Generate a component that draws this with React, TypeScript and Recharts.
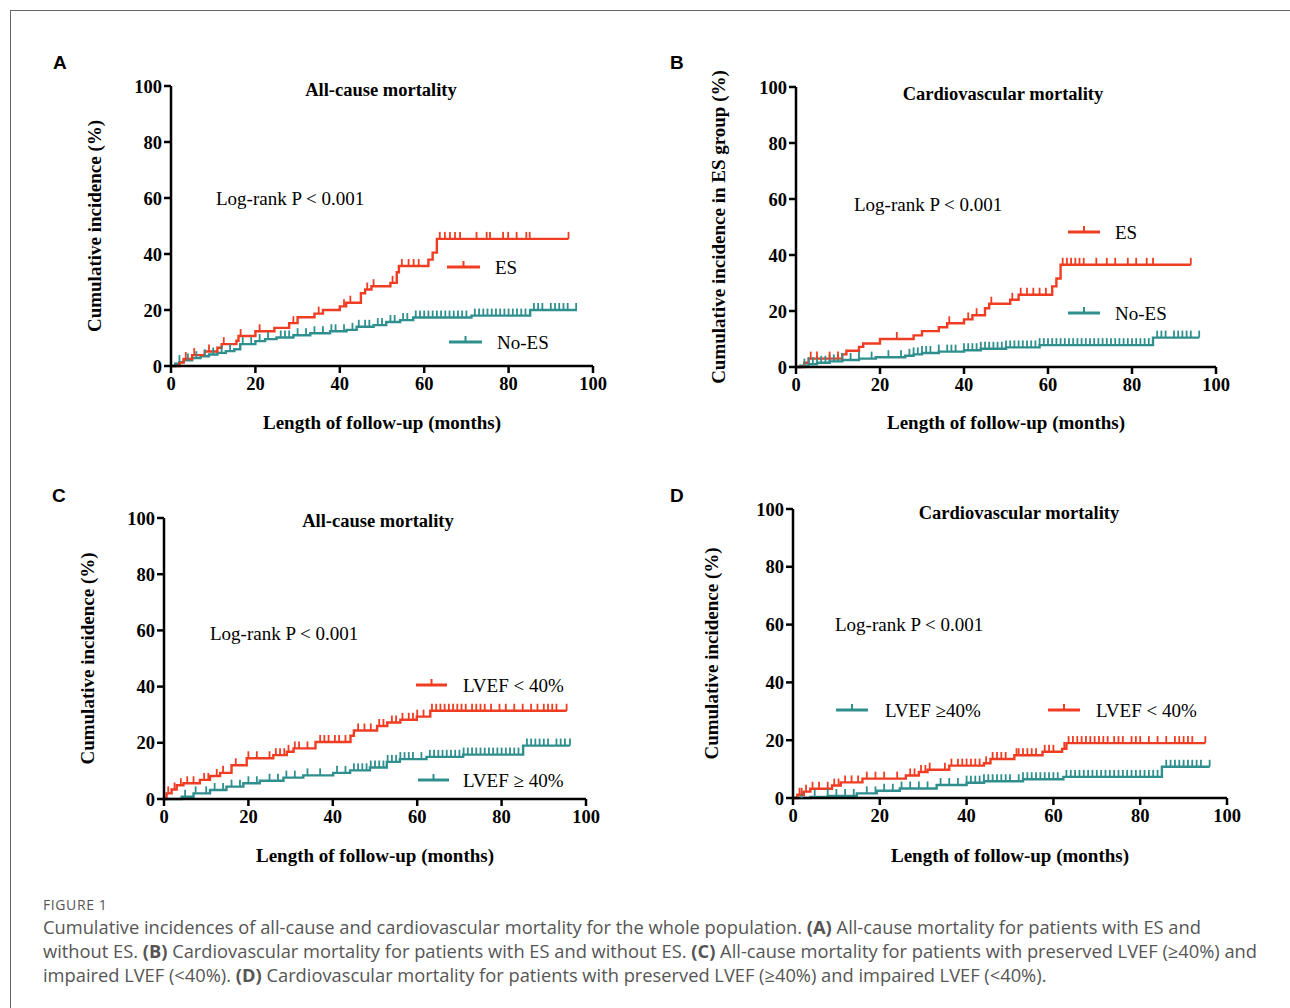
import React from 'react'
import { ComposedChart, Line, Scatter, XAxis, YAxis } from 'recharts'

type Pt = [number, number]

const RED = '#f03c22'
const TEAL = '#2f8f8f'
const SERIF = '"Liberation Serif", "Times New Roman", serif'
const X_TICKS = [0, 20, 40, 60, 80, 100]
const Y_TICKS = [0, 20, 40, 60, 80, 100]

// Panel A: all-cause mortality, ES vs No-ES  (time in months, incidence in %)
const A_ES: Pt[] = [
    [0, 0], [2, 1.2], [3, 2.5], [5, 3.9], [8, 5.2], [11, 6.5], [12, 7.8], [15.5, 9], [16, 10.7],
    [20, 12.4], [24.5, 13.6], [28, 15.3], [30, 17.4], [34, 18.7], [36, 20], [40, 21.3], [41.5, 22.6],
    [45, 26], [46, 27.3], [47.5, 28.5], [52, 29.7], [53.5, 33.5], [54, 35.7], [61, 38], [62, 40.5],
    [63, 45.4], [94.2, 45.4],
]
const A_ES_CENSOR = [3.5, 5.5, 9, 12.5, 16.5, 21, 29, 35, 41, 42.5, 46.5, 48, 52.5, 54.7, 56.3, 57.5, 58.7,
    63.7, 64.9, 66.1, 67.3, 68.5, 72.4, 74.8, 75.6, 78.7, 79.9, 81.9, 84.2, 85, 94.2]
const A_NOES: Pt[] = [
    [0, 0], [1, 0.8], [2, 1.4], [3, 2], [5, 2.8], [7, 3.5], [9, 4.1], [11, 4.7], [13, 5.3], [15, 6],
    [16.4, 7.8], [20, 8.9], [22.3, 9.6], [25, 10.2], [29, 11], [33, 11.7], [37.7, 12.4], [41.6, 12.9],
    [44, 14], [48, 14.6], [51, 15.7], [54.3, 16.4], [57.4, 17.3], [71.2, 18], [85.1, 20], [96.2, 20],
]
const A_NOES_CENSOR = [2, 4, 6, 8, 10, 12, 14, 17, 19, 21, 23, 26, 27, 28, 30, 32, 34, 36, 38, 39, 41, 43,
    44.5, 46, 47, 49, 50, 52, 53, 55, 56, 58, 59, 60, 61, 62, 63, 64, 65, 66, 67, 68, 69, 70, 72, 73, 74,
    75, 76, 77, 78, 79, 80, 81, 82, 83, 84, 86, 87, 88, 90, 91, 92, 93, 94, 96]

// Panel B: cardiovascular mortality, ES vs No-ES
const B_ES: Pt[] = [
    [0, 0], [2, 1.5], [3, 3], [11, 4.5], [12, 5.8], [15, 7.2], [16, 8.4], [20, 10], [28, 11.3],
    [30, 12.8], [34, 14.2], [36, 15.6], [40, 17], [42, 18.5], [45, 21], [46, 22.6], [51, 24],
    [53, 25.8], [61, 28.8], [62, 31.6], [63, 36.5], [94, 36.5],
]
const B_ES_CENSOR = [3.5, 5, 8, 10, 24, 36.5, 41, 43, 46.5, 51.5, 53.5, 55, 56.5, 58, 59.5, 63.5, 64.5,
    65.5, 66.5, 67.5, 68.5, 71.5, 74, 76, 79, 81, 83.5, 85, 94]
const B_NOES: Pt[] = [
    [0, 0], [1, 0.5], [3, 1], [5, 1.5], [8, 2], [11, 2.5], [15, 3], [19, 3.5], [26, 4], [28, 4.5],
    [30, 5], [34, 5.5], [40, 6], [44, 6.5], [50, 7], [58, 7.8], [85, 10.5], [96, 10.5],
]
const B_NOES_CENSOR = [2, 3, 4, 5, 6, 7, 8, 9, 10, 11, 13, 15, 18, 22, 25, 27, 28, 29, 30, 31, 32, 34,
    36, 37, 38, 40, 41, 42, 43, 44, 45, 46, 47, 48, 49, 50, 51, 52, 53, 54, 55, 56, 57, 58, 59, 60, 61,
    62, 63, 64, 65, 66, 67, 68, 69, 70, 71, 72, 73, 74, 75, 76, 77, 78, 79, 80, 81, 82, 83, 84, 86, 87,
    88, 90, 91, 92, 93, 94, 96]

// Panel C: all-cause mortality, LVEF < 40% vs >= 40%
const C_LOW: Pt[] = [
    [0, 0], [0.6, 2], [1.8, 3.4], [3, 4.9], [4.6, 5.6], [8.5, 6.8], [10.9, 8.2], [13.3, 9.3], [16, 12],
    [19.6, 14.5], [25.9, 15.6], [29.1, 16.8], [30.7, 18], [35.9, 20.3], [44.2, 22.5], [45, 24.4],
    [50.5, 26], [52.9, 27.2], [56, 28.2], [59.9, 29.3], [63.1, 31.4], [95.4, 31.4],
]
const C_LOW_CENSOR = [1, 2.5, 4, 5.5, 7, 9.5, 10.5, 12.5, 14, 17, 20, 22, 25, 26.5, 27.5, 28.5, 29.5, 31,
    32, 34, 37, 38, 39, 40.5, 41.5, 43, 46, 47.5, 49, 51, 52, 54, 55, 56.5, 58, 59, 60, 61.5, 63.5, 64.5,
    65.5, 66.5, 67.5, 68.5, 69.5, 70.5, 71.5, 73, 74, 75, 76, 77.5, 79.5, 81, 83, 85, 87, 88.5, 90, 91,
    92, 93, 95.4]
const C_HIGH: Pt[] = [
    [0, 0], [4.2, 0.8], [7, 2], [10.9, 3.2], [14.8, 4.4], [18.8, 5.6], [22.7, 6.5], [28.3, 7.6],
    [33, 8.4], [40.1, 9.3], [44.1, 10.2], [48.8, 11.2], [52.8, 13.2], [55.9, 14.2], [62.2, 15],
    [70.9, 15.8], [85.1, 19], [96.2, 19],
]
const C_HIGH_CENSOR = [5, 7.5, 10, 12, 14, 16, 18, 20, 22, 25, 27, 29, 31, 34, 37, 41, 43, 45, 46, 47,
    48, 49, 50, 51, 52, 53, 54, 55, 56, 57, 58, 59, 61, 63, 64, 65, 66, 67, 68, 69, 70, 71, 72, 73, 74,
    75, 76, 77, 78, 79, 80, 81, 82, 83, 84, 86, 87, 88, 89, 90, 91, 93, 94, 95, 96.2]

// Panel D: cardiovascular mortality, LVEF < 40% vs >= 40%
const D_LOW: Pt[] = [
    [0, 0], [1, 1.1], [2.5, 2.2], [4, 3.2], [9, 4.3], [11, 5.4], [16, 6.7], [26, 7.8], [29, 9],
    [31, 9.8], [36, 11.2], [44, 12], [45.5, 13.5], [51, 14.8], [57.5, 16], [62, 17], [63, 19], [95, 19],
]
const D_LOW_CENSOR = [1.5, 2, 3, 4.5, 6, 8, 9.5, 10.5, 12, 13.5, 15, 17, 19, 21, 24, 27, 28, 29.5, 30.5,
    31.5, 35, 36.5, 38, 39, 40, 41, 42, 43, 44.5, 46, 47, 48, 49, 51.5, 52, 53, 54, 55, 56, 58, 59, 60,
    62.5, 63.5, 64.5, 65.5, 66.5, 67.5, 68.5, 69.5, 70.5, 71.5, 72.5, 74, 75, 76, 78, 79, 80, 82, 84,
    86, 88, 89, 90, 91, 92, 95]
const D_HIGH: Pt[] = [
    [0, 0], [4, 0.4], [8, 0.7], [14.7, 1.6], [19.3, 2.5], [24.6, 3.3], [33.1, 4.5], [40, 5.3],
    [44, 5.8], [53, 6.5], [62.3, 7.3], [85, 10.8], [96, 10.8],
]
const D_HIGH_CENSOR = [2, 5, 8, 10, 12, 14, 17, 19, 21, 23, 25, 27, 29, 31, 34, 36, 38, 40, 41, 42, 43,
    44, 45, 46, 47, 48, 49, 50, 52, 53, 54, 55, 56, 57, 58, 59, 60, 61, 63, 64, 65, 66, 67, 68, 69, 70,
    71, 72, 73, 74, 75, 76, 77, 78, 79, 80, 81, 82, 83, 84, 86, 87, 88, 89, 90, 91, 92, 93, 94, 96]

// value of the step function at time t
function stepAt(steps: Pt[], t: number) {
    let v = 0
    for (const [st, sv] of steps) {
        if (st <= t) v = sv
    }
    return v
}

const toRows = (steps: Pt[]) => steps.map(([t, v]) => ({ t, v }))
const censorRows = (steps: Pt[], times: number[]) => times.map((t) => ({ t, v: stepAt(steps, t) }))

interface Series {
    name: string
    steps: Pt[]
    censor: number[]
    color: string
}

interface PanelProps {
    x0: number
    x100: number
    y100: number
    y0: number
    series: Series[]
    yLabel: string
    yLabelX: number
    xLabelY: number
}

const ML = 130
const YW = 50
const MT = 20
const MR = 24
const MB = 90
const XH = 80

function Panel({ x0, x100, y100, y0, series, yLabel, yLabelX, xLabelY }: PanelProps) {
    const left = x0 - ML
    const top = y100 - MT
    const width = ML + (x100 - x0) + MR
    const height = MT + (y0 - y100) + MB
    const plotH = y0 - y100
    const axisStyle = { stroke: '#000', strokeWidth: 2.5 }
    const tickStyle = { fill: '#000', fontSize: 18.5, fontWeight: 700, fontFamily: SERIF }

    return (
        <div style={{ position: 'absolute', left, top }}>
            <ComposedChart width={width} height={height} margin={{ top: MT, right: MR, bottom: MB - XH, left: ML - YW }}>
                <XAxis
                    type="number"
                    dataKey="t"
                    domain={[0, 100]}
                    ticks={X_TICKS}
                    height={XH}
                    axisLine={axisStyle}
                    tickLine={axisStyle}
                    tickSize={7}
                    tickMargin={4}
                    tick={tickStyle}
                    label={() => (
                        <text
                            x={ML + (x100 - x0) / 2}
                            y={MT + plotH + (xLabelY - y0)}
                            textAnchor="middle"
                            dominantBaseline="central"
                            style={{ fontFamily: SERIF, fontSize: 19, fontWeight: 700, fill: '#000' }}
                        >
                            Length of follow-up (months)
                        </text>
                    )}
                />
                <YAxis
                    type="number"
                    dataKey="v"
                    domain={[0, 100]}
                    ticks={Y_TICKS}
                    width={YW}
                    axisLine={axisStyle}
                    tickLine={axisStyle}
                    tickSize={7}
                    tickMargin={2}
                    tick={tickStyle}
                    label={() => {
                        const cx = yLabelX - left
                        const cy = MT + plotH / 2
                        return (
                            <text
                                x={cx}
                                y={cy}
                                transform={`rotate(-90 ${cx} ${cy})`}
                                textAnchor="middle"
                                dominantBaseline="central"
                                style={{ fontFamily: SERIF, fontSize: 19, fontWeight: 700, fill: '#000' }}
                            >
                                {yLabel}
                            </text>
                        )
                    }}
                />
                {series.map((s) => (
                    <Line
                        key={s.name}
                        data={toRows(s.steps)}
                        dataKey="v"
                        type="stepAfter"
                        stroke={s.color}
                        strokeWidth={2.4}
                        dot={false}
                        activeDot={false}
                        isAnimationActive={false}
                    />
                ))}
                {series.map((s) => (
                    <Scatter
                        key={s.name + '-censor'}
                        data={censorRows(s.steps, s.censor)}
                        dataKey="v"
                        isAnimationActive={false}
                        shape={(p: any) => (
                            <line x1={p.cx} y1={p.cy} x2={p.cx} y2={p.cy - 7} stroke={s.color} strokeWidth={1.8} />
                        )}
                    />
                ))}
            </ComposedChart>
        </div>
    )
}

function LegendEntry({ x1, x2, y, color, label, textX }: { x1: number; x2: number; y: number; color: string; label: string; textX: number }) {
    const w = x2 - x1
    return (
        <>
            <svg style={{ position: 'absolute', left: x1, top: y - 7 }} width={w} height={12}>
                <line x1={0} y1={7} x2={w} y2={7} stroke={color} strokeWidth={3} />
                <line x1={w / 2} y1={7} x2={w / 2} y2={1} stroke={color} strokeWidth={2} />
            </svg>
            <div style={{ position: 'absolute', left: textX, top: y, transform: 'translateY(-50%)', font: `19px ${SERIF}`, lineHeight: 1, whiteSpace: 'nowrap' }}>
                {label}
            </div>
        </>
    )
}

function Title({ cx, cy, text }: { cx: number; cy: number; text: string }) {
    return (
        <div style={{ position: 'absolute', left: cx, top: cy, transform: 'translate(-50%, -50%)', font: `bold 18.5px ${SERIF}`, lineHeight: 1, whiteSpace: 'nowrap' }}>
            {text}
        </div>
    )
}

function Note({ x, cy, text }: { x: number; cy: number; text: string }) {
    return (
        <div style={{ position: 'absolute', left: x, top: cy, transform: 'translateY(-50%)', font: `19px ${SERIF}`, lineHeight: 1, whiteSpace: 'nowrap' }}>
            {text}
        </div>
    )
}

function Letter({ x, cy, text }: { x: number; cy: number; text: string }) {
    return (
        <div style={{ position: 'absolute', left: x, top: cy, transform: 'translateY(-50%)', font: 'bold 19px "Liberation Sans", Arial, sans-serif', lineHeight: 1 }}>
            {text}
        </div>
    )
}

export default function App() {
    const captionStyle: React.CSSProperties = {
        position: 'absolute',
        left: 43,
        top: 915,
        font: '18.3px "Open Sans", sans-serif',
        lineHeight: '24px',
        color: '#555',
        whiteSpace: 'nowrap',
    }
    return (
        <div style={{ position: 'absolute', left: 0, top: 0, width: 1290, height: 1008, background: '#fff', overflow: 'hidden' }}>
            <div style={{ position: 'absolute', left: 10, top: 10, width: 1290, height: 1000, borderTop: '1px solid #666', borderLeft: '1px solid #666' }} />

            <Letter x={53} cy={62} text="A" />
            <Letter x={670} cy={62} text="B" />
            <Letter x={52} cy={495} text="C" />
            <Letter x={670} cy={495} text="D" />

            <Panel
                x0={171} x100={593} y100={86} y0={366}
                yLabel="Cumulative incidence (%)" yLabelX={94} xLabelY={422}
                series={[
                    { name: 'No-ES', steps: A_NOES, censor: A_NOES_CENSOR, color: TEAL },
                    { name: 'ES', steps: A_ES, censor: A_ES_CENSOR, color: RED },
                ]}
            />
            <Panel
                x0={796} x100={1216} y100={87} y0={367}
                yLabel="Cumulative incidence in ES group (%)" yLabelX={718} xLabelY={422}
                series={[
                    { name: 'No-ES', steps: B_NOES, censor: B_NOES_CENSOR, color: TEAL },
                    { name: 'ES', steps: B_ES, censor: B_ES_CENSOR, color: RED },
                ]}
            />
            <Panel
                x0={164} x100={586} y100={518} y0={799}
                yLabel="Cumulative incidence (%)" yLabelX={87} xLabelY={855}
                series={[
                    { name: 'high', steps: C_HIGH, censor: C_HIGH_CENSOR, color: TEAL },
                    { name: 'low', steps: C_LOW, censor: C_LOW_CENSOR, color: RED },
                ]}
            />
            <Panel
                x0={793} x100={1227} y100={509} y0={798}
                yLabel="Cumulative incidence (%)" yLabelX={711} xLabelY={855}
                series={[
                    { name: 'high', steps: D_HIGH, censor: D_HIGH_CENSOR, color: TEAL },
                    { name: 'low', steps: D_LOW, censor: D_LOW_CENSOR, color: RED },
                ]}
            />

            <Title cx={381} cy={90} text="All-cause mortality" />
            <Title cx={1003} cy={94} text="Cardiovascular mortality" />
            <Title cx={378} cy={521} text="All-cause mortality" />
            <Title cx={1019} cy={513} text="Cardiovascular mortality" />

            <Note x={216} cy={198} text="Log-rank P < 0.001" />
            <Note x={854} cy={204} text="Log-rank P < 0.001" />
            <Note x={210} cy={633} text="Log-rank P < 0.001" />
            <Note x={835} cy={624} text="Log-rank P < 0.001" />

            <LegendEntry x1={447} x2={480} y={267} color={RED} label="ES" textX={495} />
            <LegendEntry x1={449} x2={482} y={342} color={TEAL} label="No-ES" textX={497} />
            <LegendEntry x1={1068} x2={1100} y={232} color={RED} label="ES" textX={1115} />
            <LegendEntry x1={1068} x2={1100} y={313} color={TEAL} label="No-ES" textX={1115} />
            <LegendEntry x1={416} x2={447} y={685} color={RED} label="LVEF < 40%" textX={463} />
            <LegendEntry x1={418} x2={449} y={780} color={TEAL} label="LVEF ≥ 40%" textX={463} />
            <LegendEntry x1={836} x2={868} y={710} color={TEAL} label="LVEF ≥40%" textX={885} />
            <LegendEntry x1={1048} x2={1080} y={710} color={RED} label="LVEF < 40%" textX={1096} />

            <div style={{ position: 'absolute', left: 43, top: 904, transform: 'translateY(-50%)', font: '14px "Open Sans", sans-serif', color: '#555', letterSpacing: 0.6 }}>
                FIGURE 1
            </div>
            <div style={captionStyle}>
                Cumulative incidences of all-cause and cardiovascular mortality for the whole population. <b>(A)</b> All-cause mortality for patients with ES and
                <br />
                without ES. <b>(B)</b> Cardiovascular mortality for patients with ES and without ES. <b>(C)</b> All-cause mortality for patients with preserved LVEF (≥40%) and
                <br />
                impaired LVEF (&lt;40%). <b>(D)</b> Cardiovascular mortality for patients with preserved LVEF (≥40%) and impaired LVEF (&lt;40%).
            </div>
        </div>
    )
}
